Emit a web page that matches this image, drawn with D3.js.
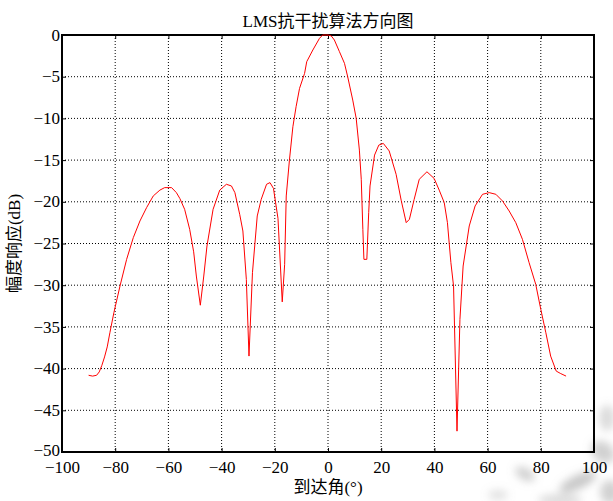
<!DOCTYPE html>
<html>
<head>
<meta charset="utf-8">
<script src="https://cdn.jsdelivr.net/npm/d3@7"></script>
<style>
  html, body { margin: 0; padding: 0; background: #fff; }
  svg { display: block; }
</style>
</head>
<body>
<div id="chart"></div>
<script>
// Beam pattern of the LMS adaptive array: arrival angle (deg) vs magnitude (dB)
const angles = [
  -90, -88.5, -87, -86, -85, -84, -83, -82, -80.5, -78.2, -75.7, -73.2, -70.7, -68.2,
  -65.7, -63.2, -61.4, -58.8, -57.0, -55.7, -53.9, -52.0, -50.5, -49.5, -48.0, -46.7,
  -45.5, -43.2, -40.7, -38.2, -36.3, -35.0, -33.2, -32.0, -30.7, -29.7, -28.4, -26.6,
  -25.1, -23.1, -21.8, -20.5, -18.8, -17.2, -16.3, -15.7, -14.5, -13.2, -12.0, -10.7,
  -8.8, -8.0, -5.7, -3.2, -2.0, 0, 1.2, 2.4, 4.3, 6.2, 7.4, 9.3, 10.6, 11.8, 12.5, 13.1,
  13.5, 14.6, 15.3, 15.8, 17.5, 19.1, 20.8,
  23.0, 25.6, 27.5, 29.4, 30.6, 32.4, 34.3, 37.2, 39.9, 41.8, 43.7, 44.9, 46.2, 47.2,
  48.5, 49.6, 50.8, 53.1, 55.3, 58.1, 60.6, 63.1, 65.6, 68.1, 70.6, 73.1, 75.6, 78.1,
  80.0, 81.9, 83.7, 85.8, 87.5, 89.5
];
const gainDb = [
  -40.8, -40.9, -40.8, -40.4, -39.6, -38.6, -37.4, -35.7, -33.3, -30.1, -26.9, -24.3, -22.3, -20.7,
  -19.3, -18.6, -18.3, -18.3, -18.9, -19.6, -20.9, -23.3, -26.0, -28.9, -32.4, -28.9,
  -25.3, -20.9, -18.6, -17.9, -18.1, -18.9, -21.5, -23.5, -29.3, -38.5, -28.5, -21.7,
  -19.7, -17.9, -17.7, -18.4, -22.0, -32.0, -27.5, -19.3, -15.0, -11.0, -8.6, -6.4,
  -4.6, -3.2, -1.8, -0.4, 0, 0, -0.1, -0.6, -2.0, -3.4, -5.0, -7.8, -10.0, -13.8, -17.3, -23.3,
  -26.9, -26.9, -21.3, -18.1, -14.4, -13.2, -13.0,
  -13.9, -16.7, -19.8, -22.5, -22.1, -19.7, -17.3, -16.4, -17.2, -18.6, -20.1, -22.5, -27.3, -30.1,
  -47.5, -34.1, -27.7, -22.9, -20.5, -19.1, -18.9, -19.1, -19.9, -21.1, -22.5, -24.5, -27.3, -29.9,
  -32.9, -35.7, -38.5, -40.3, -40.6, -40.9
];
const xTicks = [-100, -80, -60, -40, -20, 0, 20, 40, 60, 80, 100];
const yTicks = [-50, -45, -40, -35, -30, -25, -20, -15, -10, -5, 0];
const titleText = "LMS抗干扰算法方向图";
const xLabel = "到达角(°)";
const yLabel = "幅度响应(dB)";

const W = 613, H = 501;
const margin = { top: 35, right: 19, bottom: 49, left: 62 };
const iw = W - margin.left - margin.right;
const ih = H - margin.top - margin.bottom;
const serif = '"Liberation Serif", "Times New Roman", "DejaVu Serif", serif';
const mixed = '"Liberation Serif", "Times New Roman", "Noto Sans CJK SC", serif';

const svg = d3.select("#chart").append("svg")
  .attr("width", W).attr("height", H);

// faint grey smudges in the lower-right corner
const defs = svg.append("defs");
defs.append("filter").attr("id", "smudge")
  .attr("x", "-50%").attr("y", "-50%").attr("width", "200%").attr("height", "200%")
  .append("feGaussianBlur").attr("stdDeviation", 4);
const marks = svg.append("g").attr("filter", "url(#smudge)").attr("fill", "#9a9a9a");
[[578, 482, 20, 7, -25, 0.55], [603, 452, 13, 10, 40, 0.45], [525, 474, 11, 6, 30, 0.45],
 [607, 418, 8, 13, 0, 0.35], [560, 500, 22, 6, 0, 0.35], [610, 492, 10, 12, 0, 0.45],
 [498, 495, 10, 5, 0, 0.3]]
  .forEach(([cx, cy, rx, ry, rot, op]) => {
    marks.append("ellipse").attr("cx", cx).attr("cy", cy).attr("rx", rx).attr("ry", ry)
      .attr("transform", `rotate(${rot},${cx},${cy})`).attr("opacity", op);
  });

const g = svg.append("g").attr("transform", `translate(${margin.left},${margin.top})`);

const x = d3.scaleLinear().domain([-100, 100]).range([0, iw]);
const y = d3.scaleLinear().domain([-50, 0]).range([ih, 0]);

// dotted grid
g.append("g").selectAll("line").data(xTicks.slice(1, -1)).join("line")
  .attr("x1", d => x(d)).attr("x2", d => x(d)).attr("y1", 0).attr("y2", ih)
  .attr("stroke", "#000").attr("stroke-width", 1).attr("stroke-dasharray", "1,2");
g.append("g").selectAll("line").data(yTicks.slice(1, -1)).join("line")
  .attr("y1", d => y(d)).attr("y2", d => y(d)).attr("x1", 0).attr("x2", iw)
  .attr("stroke", "#000").attr("stroke-width", 1).attr("stroke-dasharray", "1,2");

// axes with inward ticks
const fontSize = 17;
const xAxis = g.append("g").attr("transform", `translate(0,${ih})`)
  .call(d3.axisBottom(x).tickValues(xTicks).tickSizeInner(-4).tickSizeOuter(0).tickPadding(9).tickFormat(d3.format("d")));
const yAxis = g.append("g")
  .call(d3.axisLeft(y).tickValues(yTicks).tickSizeInner(-4).tickSizeOuter(0).tickPadding(2).tickFormat(d3.format("d")));
g.append("g").attr("transform", `translate(${iw},0)`)
  .call(d3.axisRight(y).tickValues(yTicks).tickSizeInner(-4).tickSizeOuter(0).tickFormat(""));
g.append("g")
  .call(d3.axisTop(x).tickValues(xTicks).tickSizeInner(-4).tickSizeOuter(0).tickFormat(""));
g.selectAll(".domain").remove();
g.selectAll(".tick line").attr("stroke", "#000").attr("stroke-width", 1);
[xAxis, yAxis].forEach(a => {
  a.attr("font-family", serif).attr("font-size", fontSize);
  a.selectAll("text").attr("font-family", serif).attr("font-size", fontSize).attr("fill", "#000");
});
yAxis.selectAll("text").attr("dy", "0.3em");
// lift the bottom y label a touch so it clears the first x label
yAxis.selectAll(".tick").filter(d => d === -50).select("text").attr("dy", "0.18em");

// frame
g.append("rect").attr("x", 0).attr("y", 0).attr("width", iw).attr("height", ih)
  .attr("fill", "none").attr("stroke", "#000").attr("stroke-width", 2);

// pattern curve
const pts = angles.map((a, i) => [a, gainDb[i]]);
g.append("path").datum(pts)
  .attr("fill", "none").attr("stroke", "#ff0000").attr("stroke-width", 1)
  .attr("stroke-linejoin", "round")
  .attr("d", d3.line().x(d => x(d[0])).y(d => y(d[1])));

// titles
svg.append("text").attr("x", margin.left + iw / 2).attr("y", 27)
  .attr("text-anchor", "middle").attr("font-family", mixed).attr("font-size", 17).text(titleText);
svg.append("text").attr("x", margin.left + iw / 2).attr("y", 493)
  .attr("text-anchor", "middle").attr("font-family", mixed).attr("font-size", 17).text(xLabel);
svg.append("text")
  .attr("transform", `translate(20,${margin.top + ih / 2}) rotate(-90)`)
  .attr("text-anchor", "middle").attr("font-family", mixed).attr("font-size", 17).text(yLabel);
</script>
</body>
</html>
